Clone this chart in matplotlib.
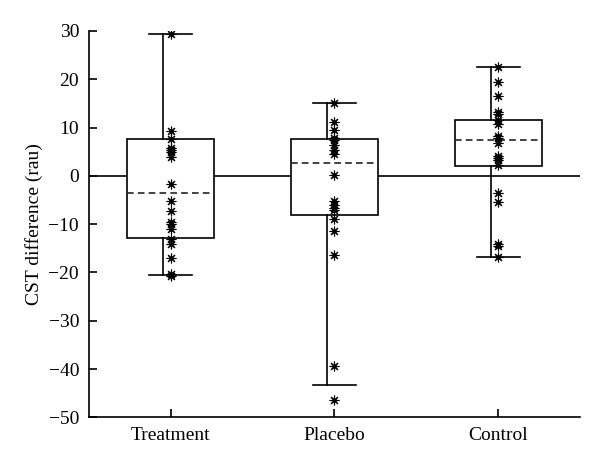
import matplotlib
matplotlib.use("Agg")
import matplotlib.pyplot as plt
import numpy as np

categories = ["Treatment", "Placebo", "Control"]

treatment_pts = [29.4, 9.3, 7.6, 5.7, 5.3, 4.85, 3.9, -1.7, -5.25, -7.25, -9.5,
                 -10.0, -10.9, -13.0, -14.2, -16.9, -20.4, -20.8]
placebo_pts = [15.0, 11.2, 9.5, 7.75, 7.4, 6.4, 5.3, 4.6, 0.15, -5.2, -6.1,
               -6.6, -7.0, -9.0, -11.4, -16.4, -39.4, -46.4]
control_pts = [22.5, 19.4, 16.6, 13.3, 12.9, 11.55, 10.7, 8.2, 7.75, 6.7, 4.1,
               3.6, 3.25, 2.2, -3.5, -5.4, -14.0, -14.6, -16.8]

q1 = [-12.8, -8.1, 2.1]
q3 = [7.55, 7.6, 11.6]
med = [-3.5, 2.7, 7.35]
whislo = [-20.6, -43.2, -16.7]
whishi = [29.4, 15.1, 22.5]

yticks = [-50, -40, -30, -20, -10, 0, 10, 20, 30]

plt.rcParams['font.family'] = ['Liberation Serif', 'DejaVu Serif']

fig = plt.figure(figsize=(6.0, 4.68), dpi=100)
ax = fig.add_axes([0.148, 0.108, 0.819, 0.826])

positions = np.arange(1, len(categories) + 1)
stats = []
for i in range(len(categories)):
    stats.append(dict(med=med[i], q1=q1[i], q3=q3[i], whislo=whislo[i],
                      whishi=whishi[i], fliers=[]))

ax.axhline(0, color='black', lw=1.2, zorder=1)

bp = ax.bxp(stats, positions=positions, widths=0.53, capwidths=0.26,
            patch_artist=True, showfliers=False,
            boxprops=dict(facecolor='white', edgecolor='black', lw=1.2),
            medianprops=dict(color='#222222', lw=1.2, ls=(0, (4, 2.5))),
            whiskerprops=dict(color='black', lw=1.2),
            capprops=dict(color='black', lw=1.2), zorder=2)
for w in bp['whiskers']:
    xd = np.asarray(w.get_xdata(), dtype=float)
    w.set_xdata(xd - 0.047)

for i, pts in enumerate([treatment_pts, placebo_pts, control_pts]):
    ax.plot([positions[i]] * len(pts), pts, linestyle='none',
            marker=(8, 2, 0), markersize=7, markeredgewidth=0.8,
            color='black', zorder=4)
    ax.plot([positions[i]] * len(pts), pts, linestyle='none',
            marker='o', markersize=2.2, color='black', zorder=5)

ax.set_xlim(0.5, 3.5)
ax.set_ylim(-50, 30)
ax.set_yticks(yticks)
ax.set_xticks(positions)
ax.set_xticklabels(categories)
ax.tick_params(direction='in', length=6, width=1.2, labelsize=14,
               colors='black')
ax.tick_params(axis='y', pad=7)
ax.tick_params(axis='x', pad=7)
ax.spines['top'].set_visible(False)
ax.spines['right'].set_visible(False)
ax.spines['left'].set_linewidth(1.2)
ax.spines['bottom'].set_linewidth(1.2)
ax.set_ylabel("CST difference (rau)", fontsize=14, labelpad=4)

fig.savefig("out.png", dpi=100)
